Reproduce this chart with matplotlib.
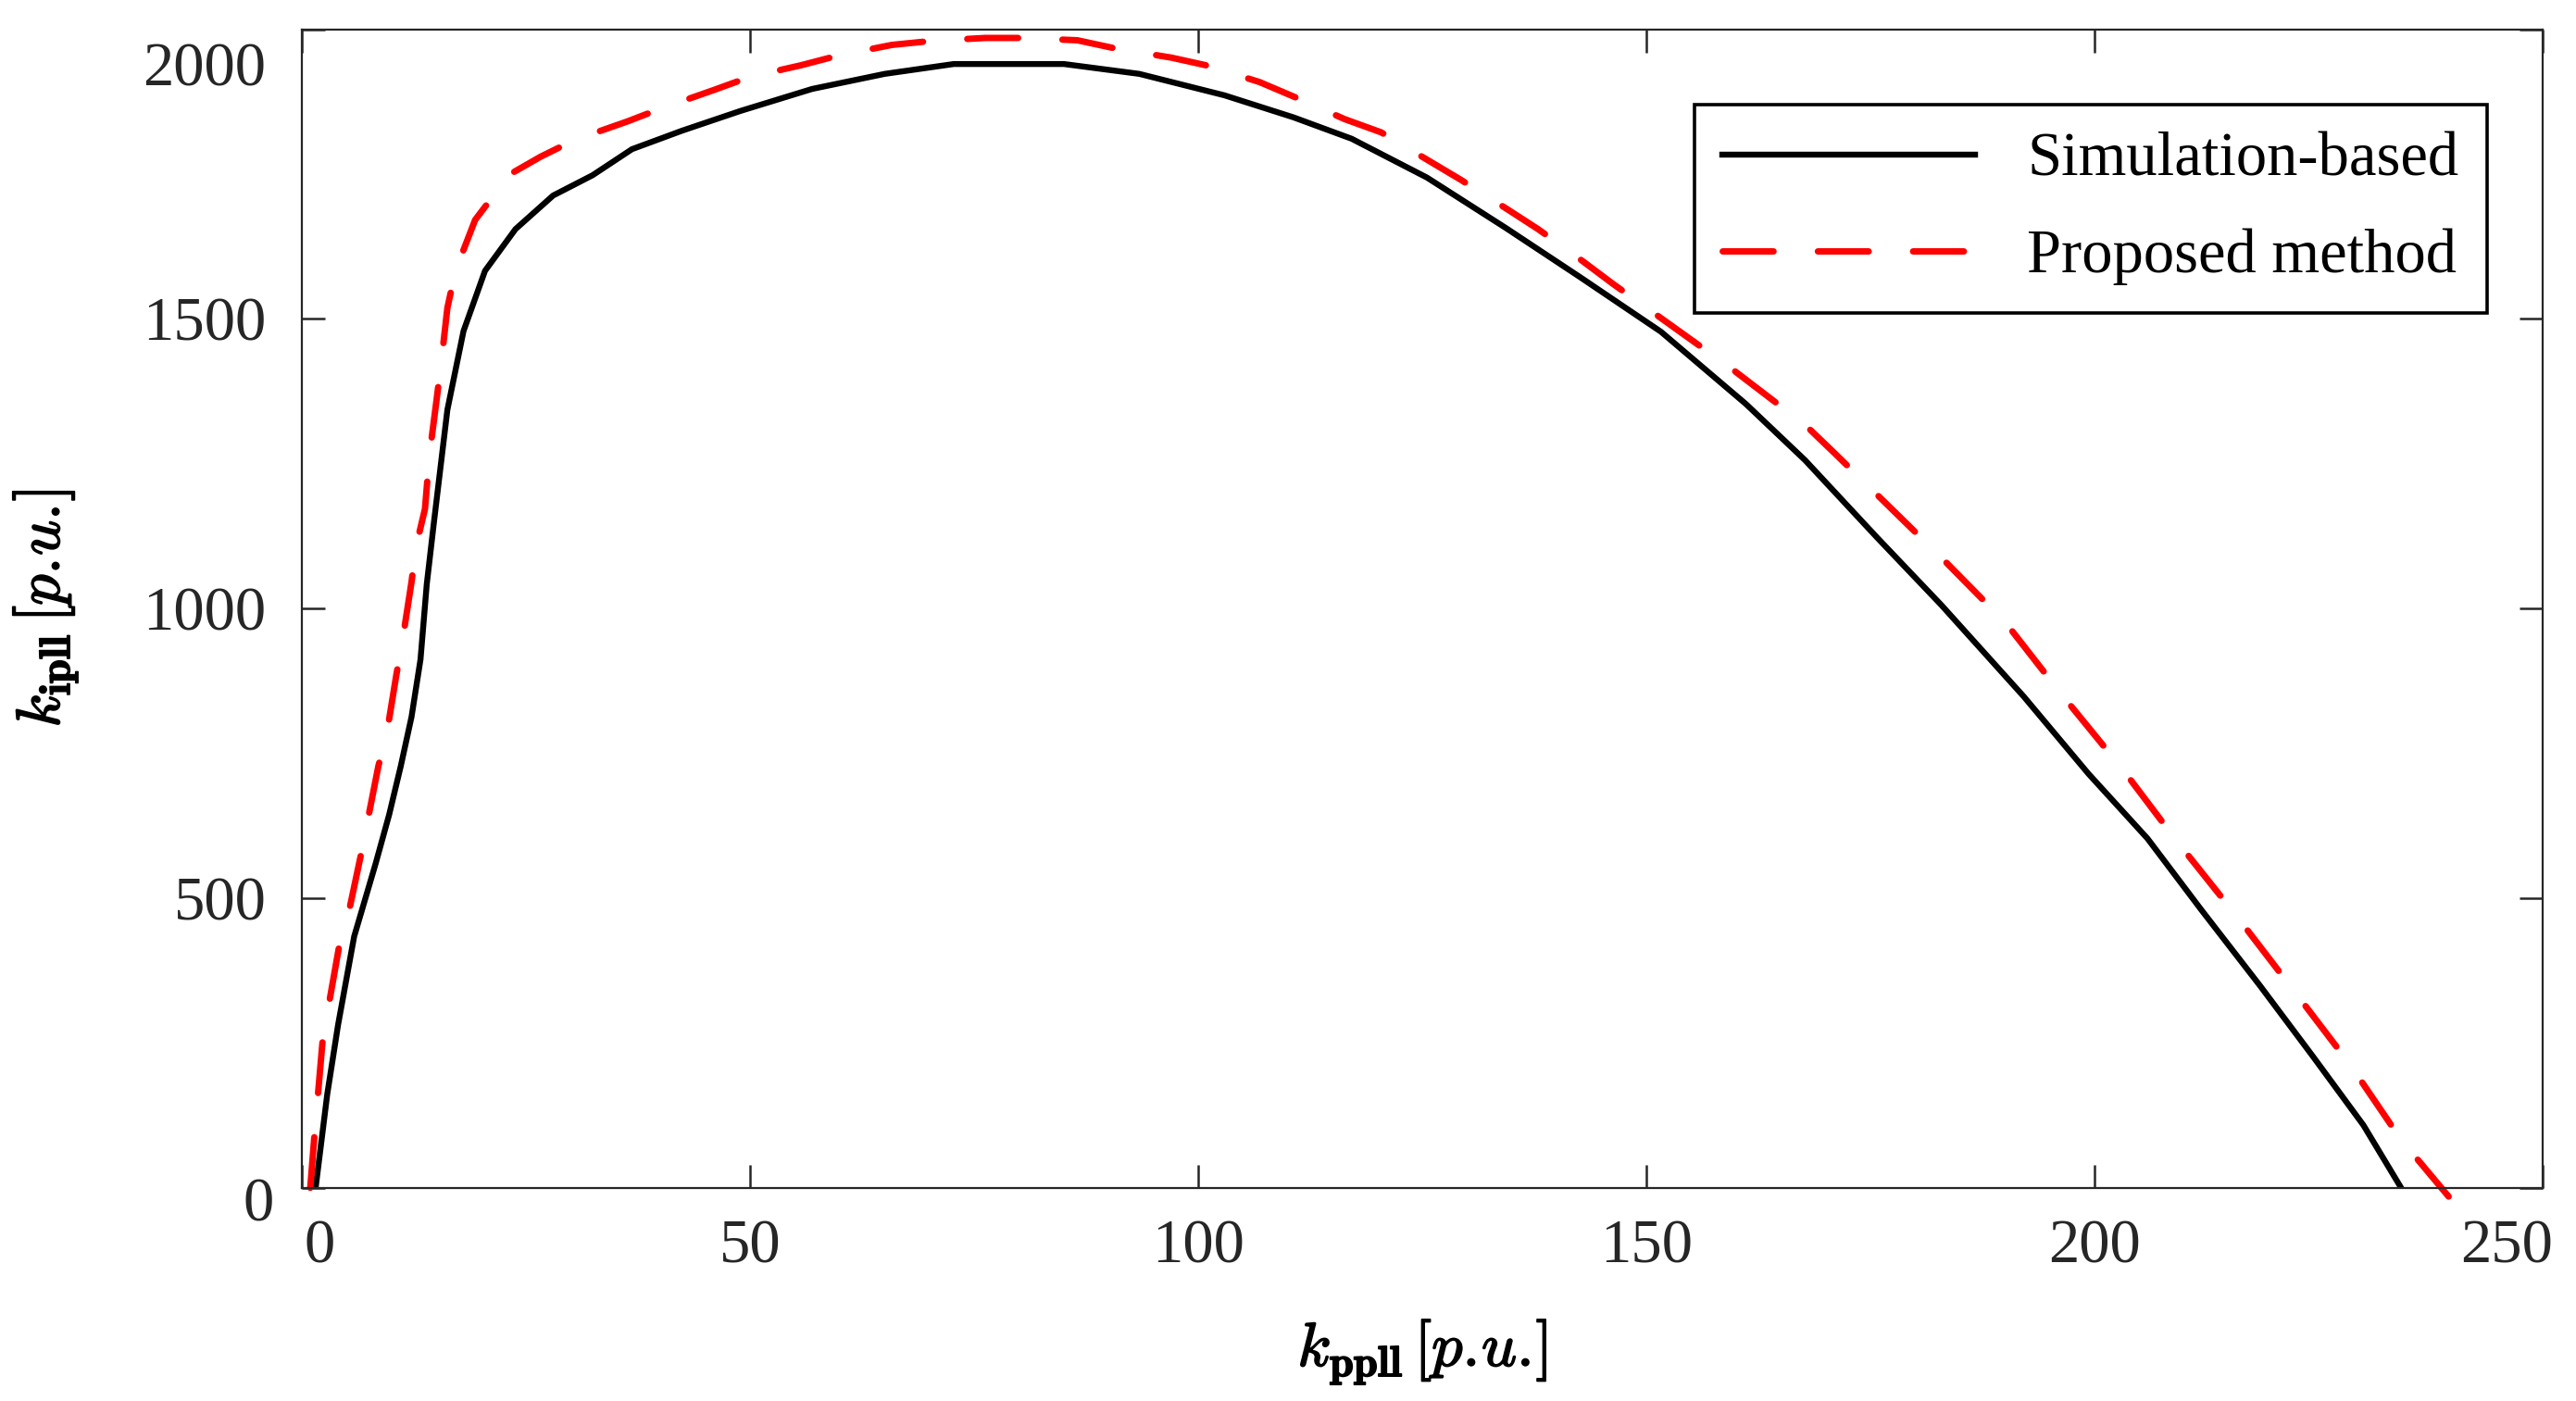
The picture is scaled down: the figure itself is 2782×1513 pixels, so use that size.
import numpy as np
import matplotlib
matplotlib.use("Agg")
import matplotlib.pyplot as plt
from matplotlib.transforms import ScaledTranslation
import matplotlib.patheffects as pe

# curva obtenida por simulacion
kp_sim = [1.5, 2.8, 4.0, 5.8, 8.2, 9.7, 11.0, 12.2, 13.2, 13.9, 14.7, 16.2, 18.0,
          20.4, 23.8, 28.0, 32.4, 36.8, 42.4, 48.9, 56.9, 65.0, 72.7, 85.0, 93.4,
          102.9, 110.6, 117.1, 125.5, 134.3, 142.6, 151.6, 161.1, 167.7, 175.7,
          182.9, 192.1, 199.3, 205.9, 211.9, 218.5, 224.4, 230.0, 234.2]
ki_sim = [0, 162, 281, 434, 560, 644, 728, 813, 912, 1042, 1149, 1343, 1479,
          1583, 1655, 1713, 1748, 1793, 1825, 1859, 1897, 1923, 1940, 1940, 1923,
          1886, 1848, 1811, 1744, 1657, 1572, 1478, 1353, 1256, 1123,
          1006, 848, 715, 603, 480, 348, 226, 108, 0]

# curva del metodo propuesto
kp_prop = [0.9, 1.4, 2.3, 3.0, 4.1, 5.2, 6.5, 8.5, 9.5, 10.5, 11.2, 12.2, 12.7,
           13.7, 14.2, 15.0, 15.5, 16.2, 17.1, 19.3, 21.9, 23.1, 26.6, 30.4,
           36.3, 40.0, 45.9, 50.0, 55.7, 59.9, 65.8, 70.3, 76.2, 80.4, 86.5,
           90.7, 97.0, 100.8, 106.8, 110.6, 116.3, 120.4, 125.5, 129.3, 134.3,
           137.9, 141.9, 146.3, 151.2, 159.5, 167.7, 171.0, 175.3, 182.9, 190.1,
           196.4, 203.0, 209.2, 215.8, 222.1, 228.4, 234.2, 239.5]
ki_prop = [0, 97, 258, 319, 415, 476, 571, 728, 790, 885, 946, 1046, 1107,
           1172, 1265, 1361, 1423, 1519, 1583, 1671, 1724, 1749, 1780, 1809,
           1841, 1863, 1895, 1918, 1938, 1955, 1973, 1980, 1985, 1985, 1981,
           1967, 1951, 1938, 1909, 1884, 1845, 1822, 1775, 1740, 1691,
           1655, 1611, 1560, 1506, 1414, 1317, 1268, 1203, 1088, 975,
           850, 725, 598, 470, 343, 215, 83, -15]

xticks = [0, 50, 100, 150, 200, 250]
yticks = [0, 500, 1000, 1500, 2000]
labels = ['Simulation-based', 'Proposed method']


def main():
    plt.rcParams['font.family'] = ['Liberation Serif', 'DejaVu Serif']
    plt.rcParams['mathtext.fontset'] = 'cm'

    fig = plt.figure(figsize=(13.91, 7.565), dpi=200)
    ax = fig.add_axes([0.11731, 0.15214, 0.86978, 0.82697])

    ax.plot(kp_sim, ki_sim, color='black', lw=2.3, label=labels[0])
    ax.plot(kp_prop, ki_prop, color='#ff0000', lw=2.5, dashes=(7.9, 6.9),
            dash_capstyle='round', clip_on=False, label=labels[1])

    ax.set_xlim(0, 250)
    ax.set_ylim(0, 2000)
    ax.set_xticks(xticks)
    ax.set_yticks(yticks)

    gris = '#262626'
    for s in ax.spines.values():
        s.set_linewidth(0.8)
        s.set_color(gris)
    ax.tick_params(direction='in', length=9, width=0.9, colors=gris,
                   labelsize=24, top=True, right=True)
    ax.tick_params(axis='x', pad=12)
    ax.tick_params(axis='y', pad=14)

    # desplazamiento de etiquetas extremas (como en la figura original)
    def mover(lab, dx, dy):
        lab.set_transform(lab.get_transform() +
                          ScaledTranslation(dx / 72, dy / 72, fig.dpi_scale_trans))
    xl = ax.get_xticklabels()
    yl = ax.get_yticklabels()
    mover(xl[0], 6.8, 0)
    mover(xl[-1], -14, 0)
    mover(yl[0], 2.9, -4.3)
    mover(yl[-1], 0, -13.3)

    # etiquetas en negrita (trazo extra sobre la fuente cm)
    negrita = [pe.withStroke(linewidth=0.6, foreground='black')]
    ax.set_xlabel(r'$k_{\mathbf{ppll}}\,[p.\!u.\!]$', fontsize=24, va='top',
                  path_effects=negrita)
    ax.set_ylabel(r'$k_{\mathbf{ipll}}\,[p.\!u.\!]$', fontsize=24,
                  path_effects=negrita)
    ax.xaxis.set_label_coords(0.5, -0.112)
    ax.yaxis.set_label_coords(-0.0993, 0.5)

    leg = ax.legend(loc='upper right', bbox_to_anchor=(0.975, 0.935),
                    borderaxespad=0, fontsize=24, handlelength=4.1,
                    handletextpad=0.84, borderpad=0.45, labelspacing=0.64,
                    fancybox=False, framealpha=1)
    leg.get_frame().set_edgecolor('black')
    leg.get_frame().set_linewidth(1.3)

    fig.savefig('out.png', dpi=200)


if __name__ == "__main__": main()
